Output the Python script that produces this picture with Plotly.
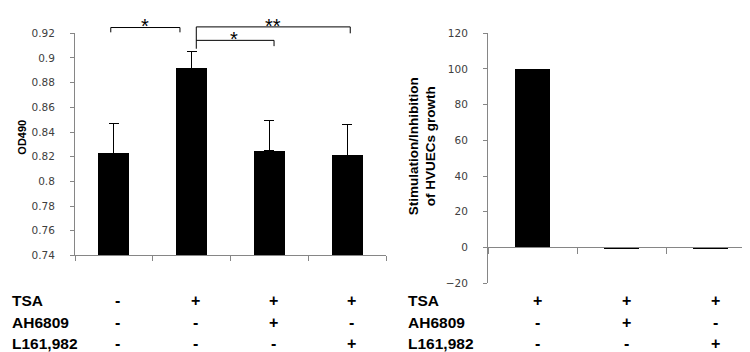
import plotly.graph_objects as go

# ---------------- data ----------------
left_categories = [0, 1, 2, 3]
od490_values = [0.8227, 0.8916, 0.8248, 0.8212]
od490_errors = [0.0243, 0.0134, 0.0246, 0.0250]
left_ytick_vals = [0.74, 0.76, 0.78, 0.80, 0.82, 0.84, 0.86, 0.88, 0.90, 0.92]
left_ytick_text = ["0.74", "0.76", "0.78", "0.8", "0.82", "0.84", "0.86", "0.88", "0.9", "0.92"]

right_categories = [0, 1, 2]
growth_values = [100, -1, -1]
right_ytick_vals = [-20, 0, 20, 40, 60, 80, 100, 120]

row_labels = ["TSA", "AH6809", "L161,982"]
left_signs = [["-", "+", "+", "+"],
              ["-", "-", "+", "-"],
              ["-", "-", "-", "+"]]
right_signs = [["+", "+", "+"],
               ["-", "+", "-"],
               ["-", "-", "+"]]

# significance brackets: (x_start, x_end, y_bar, y_left_end, y_right_end) in OD units
brackets = [(-0.04, 0.85, 0.9247, 0.9208, 0.9208),
            (1.06, 3.04, 0.9252, 0.9075, 0.9200),
            (1.06, 2.06, 0.9143, 0.9143, 0.9096)]
stars = [("*", 0.40, 0.9262), ("**", 2.05, 0.9262), ("*", 1.55, 0.9152)]

# ---------------- layout geometry ----------------
W, H = 750, 352
L_X = [67 / W, 378 / W]
L_Y = [(H - 250) / H, (H - 20) / H]
R_X = [480 / W, 747 / W]
R_Y = [(H - 278.6) / H, (H - 20) / H]
L_RANGE = [0.74, 0.92]
R_RANGE = [-20, 120]


def od_to_paper(v):
    return L_Y[0] + (v - L_RANGE[0]) / (L_RANGE[1] - L_RANGE[0]) * (L_Y[1] - L_Y[0])


zero_pos = R_Y[0] + (0 - R_RANGE[0]) / (R_RANGE[1] - R_RANGE[0]) * (R_Y[1] - R_Y[0])

AXIS_COL = "#868686"
TICK_FONT = dict(family="DejaVu Sans", size=10.5, color="#404040")
BOLD = "Liberation Sans"

fig = go.Figure()
fig.add_trace(go.Bar(
    x=left_categories, y=od490_values, width=0.4,
    marker=dict(color="black", line=dict(width=0)),
    error_y=dict(type="data", symmetric=False, array=od490_errors,
                 arrayminus=[0] * len(od490_errors), color="black",
                 thickness=1, width=5),
    xaxis="x", yaxis="y",
))
fig.add_trace(go.Bar(
    x=right_categories, y=growth_values, width=0.4,
    marker=dict(color="black", line=dict(width=0)),
    xaxis="x2", yaxis="y2",
))

fig.update_layout(
    width=W, height=H, margin=dict(l=0, r=0, t=0, b=0),
    paper_bgcolor="white", plot_bgcolor="white", showlegend=False,
    bargap=0,
    xaxis=dict(domain=L_X, range=[-0.5, 3.5], tickvals=[-0.5, 0.5, 1.5, 2.5, 3.5],
               showticklabels=False, ticks="outside", ticklen=5, tickcolor=AXIS_COL,
               showline=True, linecolor=AXIS_COL, linewidth=1, showgrid=False,
               zeroline=False, anchor="y", fixedrange=True),
    yaxis=dict(domain=L_Y, range=L_RANGE, tickvals=left_ytick_vals, ticktext=left_ytick_text,
               ticks="outside", ticklen=4, tickcolor=AXIS_COL, tickfont=TICK_FONT,
               showline=True, linecolor=AXIS_COL, linewidth=1, showgrid=False,
               zeroline=False, anchor="x", ticklabelstandoff=13),
    xaxis2=dict(domain=R_X, range=[-0.5, 2.5], tickvals=[-0.5, 0.5, 1.5, 2.5],
                showticklabels=False, ticks="outside", ticklen=6, tickcolor=AXIS_COL,
                showline=True, linecolor=AXIS_COL, linewidth=1, showgrid=False,
                zeroline=False, anchor="free", position=zero_pos),
    yaxis2=dict(domain=R_Y, range=R_RANGE, tickvals=right_ytick_vals,
                ticks="outside", ticklen=4, tickcolor=AXIS_COL, tickfont=TICK_FONT,
                showline=True, linecolor=AXIS_COL, linewidth=1, showgrid=False,
                zeroline=False, anchor="x2", ticklabelstandoff=13),
)

shapes = []
for x0, x1, yb, yl, yr in brackets:
    shapes.append(dict(type="line", xref="x", yref="paper", x0=x0, x1=x1,
                       y0=od_to_paper(yb), y1=od_to_paper(yb), line=dict(color="black", width=1)))
    shapes.append(dict(type="line", xref="x", yref="paper", x0=x0, x1=x0,
                       y0=od_to_paper(yb), y1=od_to_paper(yl), line=dict(color="black", width=1)))
    shapes.append(dict(type="line", xref="x", yref="paper", x0=x1, x1=x1,
                       y0=od_to_paper(yb), y1=od_to_paper(yr), line=dict(color="black", width=1)))
fig.update_layout(shapes=shapes)

ann = []
for txt, x, y in stars:
    ann.append(dict(text=txt, x=x, y=od_to_paper(y), xref="x", yref="paper",
                    showarrow=False, xanchor="center", yanchor="middle",
                    font=dict(family=BOLD, size=20, color="black")))

# axis titles
ann.append(dict(text="<b>OD490</b>", x=14 / W, y=(H - 128) / H, xref="paper", yref="paper",
                textangle=-90, showarrow=False, xanchor="center", yanchor="middle",
                font=dict(family=BOLD, size=11, color="black")))
ann.append(dict(text="<b>Stimulation/Inhibition<br>of HVUECs growth</b>", x=414 / W,
                y=(H - 137) / H, xref="paper", yref="paper", textangle=-90,
                showarrow=False, xanchor="center", yanchor="middle",
                font=dict(family=BOLD, size=13.5, color="black")))

row_y = [(H - 297) / H, (H - 319) / H, (H - 341) / H]
for r, lab in enumerate(row_labels):
    for xpix in (2, 398):
        ann.append(dict(text="<b>%s</b>" % lab, x=xpix / W, y=row_y[r], xref="paper", yref="paper",
                        showarrow=False, xanchor="left", yanchor="middle",
                        font=dict(family=BOLD, size=15.5, color="black")))
    for c, s in enumerate(left_signs[r]):
        ann.append(dict(text="<b>%s</b>" % s, x=left_categories[c], y=row_y[r], xref="x",
                        yref="paper", xshift=4, showarrow=False, xanchor="center",
                        yanchor="middle", font=dict(family=BOLD, size=16, color="black")))
    for c, s in enumerate(right_signs[r]):
        ann.append(dict(text="<b>%s</b>" % s, x=right_categories[c], y=row_y[r], xref="x2",
                        yref="paper", xshift=5, showarrow=False, xanchor="center",
                        yanchor="middle", font=dict(family=BOLD, size=16, color="black")))
fig.update_layout(annotations=ann)

fig.write_html("out.html")
